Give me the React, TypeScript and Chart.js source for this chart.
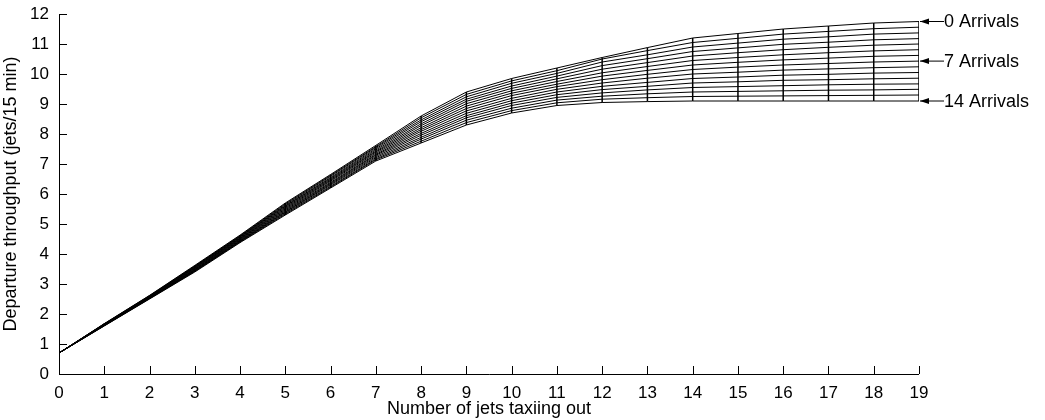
import { useEffect, useRef } from "react";
import Chart from "chart.js/auto";

// jets taxiing out (x)
const jetsOut = [0, 1, 2, 3, 4, 5, 6, 7, 8, 9, 10, 11, 12, 13, 14, 15, 16, 17, 18, 19];

// throughput per x; each row holds the 15 curves, 0 arrivals first, 14 arrivals last
const throughputByJets = [
  [0.7, 0.7, 0.7, 0.7, 0.7, 0.7, 0.7, 0.7, 0.7, 0.7, 0.7, 0.7, 0.7, 0.7, 0.7],
  [1.68, 1.67, 1.67, 1.66, 1.66, 1.65, 1.65, 1.64, 1.63, 1.63, 1.62, 1.62, 1.61, 1.61, 1.6],
  [2.62, 2.61, 2.6, 2.59, 2.59, 2.58, 2.57, 2.56, 2.55, 2.54, 2.53, 2.53, 2.52, 2.51, 2.5],
  [3.62, 3.6, 3.59, 3.57, 3.56, 3.54, 3.53, 3.51, 3.49, 3.48, 3.46, 3.45, 3.43, 3.42, 3.4],
  [4.63, 4.61, 4.59, 4.58, 4.56, 4.54, 4.52, 4.51, 4.49, 4.47, 4.45, 4.43, 4.42, 4.4, 4.38],
  [5.7, 5.67, 5.64, 5.61, 5.59, 5.56, 5.53, 5.5, 5.47, 5.44, 5.41, 5.39, 5.36, 5.33, 5.3],
  [6.65, 6.62, 6.59, 6.55, 6.52, 6.49, 6.46, 6.43, 6.39, 6.36, 6.33, 6.3, 6.26, 6.23, 6.2],
  [7.62, 7.58, 7.55, 7.51, 7.47, 7.43, 7.4, 7.36, 7.32, 7.29, 7.25, 7.21, 7.17, 7.14, 7.1],
  [8.6, 8.54, 8.47, 8.41, 8.34, 8.28, 8.21, 8.15, 8.09, 8.02, 7.96, 7.89, 7.83, 7.76, 7.7],
  [9.4, 9.32, 9.24, 9.16, 9.09, 9.01, 8.93, 8.85, 8.77, 8.69, 8.61, 8.54, 8.46, 8.38, 8.3],
  [9.85, 9.77, 9.69, 9.6, 9.52, 9.44, 9.36, 9.28, 9.19, 9.11, 9.03, 8.95, 8.86, 8.78, 8.7],
  [10.2, 10.11, 10.02, 9.93, 9.84, 9.75, 9.66, 9.58, 9.49, 9.4, 9.31, 9.22, 9.13, 9.04, 8.95],
  [10.55, 10.5, 10.4, 10.28, 10.16, 10.04, 9.93, 9.81, 9.7, 9.59, 9.48, 9.37, 9.26, 9.16, 9.05],
  [10.88, 10.78, 10.64, 10.51, 10.38, 10.25, 10.12, 9.99, 9.86, 9.72, 9.59, 9.47, 9.34, 9.21, 9.08],
  [11.2, 11.05, 10.9, 10.75, 10.6, 10.45, 10.3, 10.15, 10.0, 9.85, 9.7, 9.55, 9.4, 9.25, 9.1],
  [11.35, 11.19, 11.03, 10.87, 10.71, 10.55, 10.39, 10.23, 10.06, 9.9, 9.74, 9.58, 9.42, 9.26, 9.1],
  [11.5, 11.33, 11.16, 10.99, 10.81, 10.64, 10.47, 10.3, 10.13, 9.96, 9.79, 9.61, 9.44, 9.27, 9.1],
  [11.6, 11.42, 11.24, 11.06, 10.89, 10.71, 10.53, 10.35, 10.17, 9.99, 9.81, 9.64, 9.46, 9.28, 9.1],
  [11.7, 11.51, 11.33, 11.14, 10.96, 10.77, 10.59, 10.4, 10.21, 10.03, 9.84, 9.66, 9.47, 9.29, 9.1],
  [11.75, 11.56, 11.37, 11.18, 11.0, 10.81, 10.62, 10.43, 10.24, 10.05, 9.86, 9.67, 9.49, 9.3, 9.1],
];

const arrivalCount = 15;
const labelledArrivals = [0, 7, 14];
const xTicks = jetsOut;
const yTicks = [0, 1, 2, 3, 4, 5, 6, 7, 8, 9, 10, 11, 12];

const FONT = "'Liberation Sans', Arial, sans-serif";

const App = () => {
  const canvasRef = useRef<HTMLCanvasElement | null>(null);

  useEffect(() => {
    document.body.style.margin = "0";
    if (!canvasRef.current) return;

    const curves = Array.from({ length: arrivalCount }, (_, a) => ({
      data: jetsOut.map((x, i) => ({ x, y: throughputByJets[i][a] })),
      borderColor: "#000",
      borderWidth: 1,
      pointRadius: 0,
      showLine: true,
    }));
    const mesh = jetsOut.slice(1).map((x) => {
      const col = throughputByJets[x];
      return {
        data: [
          { x, y: col[0] },
          { x, y: col[col.length - 1] },
        ],
        borderColor: "#000",
        borderWidth: 1.5,
        pointRadius: 0,
        showLine: true,
      };
    });

    const decorations = {
      id: "decorations",
      afterDraw(chart: Chart) {
        const { ctx, chartArea } = chart;
        const xs = chart.scales.x;
        const ys = chart.scales.y;
        ctx.save();
        ctx.strokeStyle = "#000";
        ctx.lineWidth = 1;
        // inward tick marks
        xTicks.forEach((t) => {
          const px = Math.round(xs.getPixelForValue(t)) + 0.5;
          ctx.beginPath();
          ctx.moveTo(px, chartArea.bottom);
          ctx.lineTo(px, chartArea.bottom - 8);
          ctx.stroke();
        });
        yTicks.forEach((t) => {
          const py = Math.round(ys.getPixelForValue(t)) + 0.5;
          ctx.beginPath();
          ctx.moveTo(chartArea.left, py);
          ctx.lineTo(chartArea.left + 8, py);
          ctx.stroke();
        });
        // axis lines
        ctx.beginPath();
        ctx.moveTo(chartArea.left + 0.5, chartArea.top);
        ctx.lineTo(chartArea.left + 0.5, chartArea.bottom + 0.5);
        ctx.lineTo(chartArea.right, chartArea.bottom + 0.5);
        ctx.stroke();
        // arrows and labels
        const last = throughputByJets[throughputByJets.length - 1];
        const xEnd = xs.getPixelForValue(jetsOut[jetsOut.length - 1]);
        ctx.font = `18px ${FONT}`;
        ctx.fillStyle = "#000";
        ctx.textBaseline = "middle";
        labelledArrivals.forEach((a) => {
          const py = ys.getPixelForValue(last[a]);
          const tip = xEnd + 1;
          ctx.beginPath();
          ctx.moveTo(tip, py);
          ctx.lineTo(xEnd + 25, py);
          ctx.stroke();
          ctx.beginPath();
          ctx.moveTo(tip, py);
          ctx.lineTo(tip + 9, py - 3);
          ctx.lineTo(tip + 9, py + 3);
          ctx.closePath();
          ctx.fill();
          ctx.fillText(`${a} Arrivals`, xEnd + 25, py + 1);
        });
        ctx.restore();
      },
    };

    const chart = new Chart(canvasRef.current, {
      type: "scatter",
      data: { datasets: [...curves, ...mesh] },
      plugins: [decorations],
      options: {
        animation: false,
        responsive: true,
        maintainAspectRatio: false,
        layout: { padding: { top: 14, right: 126, left: 0, bottom: 0 } },
        plugins: { legend: { display: false }, tooltip: { enabled: false } },
        scales: {
          x: {
            type: "linear",
            min: 0,
            max: 19,
            afterFit: (s: any) => {
              s.height = 46;
            },
            afterBuildTicks: (s: any) => {
              s.ticks = xTicks.map((v) => ({ value: v }));
            },
            grid: { display: false },
            border: { display: false },
            ticks: { color: "#000", font: { family: FONT, size: 17 }, padding: 1, maxRotation: 0, autoSkip: false },
            title: {
              display: true,
              text: "Number of jets taxiing out",
              color: "#000",
              font: { family: FONT, size: 18 },
              padding: { top: -6, bottom: 0 },
            },
          },
          y: {
            min: 0,
            max: 12,
            afterFit: (s: any) => {
              s.width = 59;
            },
            afterBuildTicks: (s: any) => {
              s.ticks = yTicks.map((v) => ({ value: v }));
            },
            grid: { display: false },
            border: { display: false },
            ticks: { color: "#000", font: { family: FONT, size: 17 }, padding: 2 },
            title: {
              display: true,
              text: "Departure throughput (jets/15 min)",
              color: "#000",
              font: { family: FONT, size: 18 },
              padding: { top: 0, bottom: 0 },
            },
          },
        },
      },
    });

    return () => {
      chart.destroy();
    };
  }, []);

  return (
    <div style={{ width: 1045, height: 420, background: "#fff" }}>
      <canvas ref={canvasRef} />
    </div>
  );
};

export default App;
